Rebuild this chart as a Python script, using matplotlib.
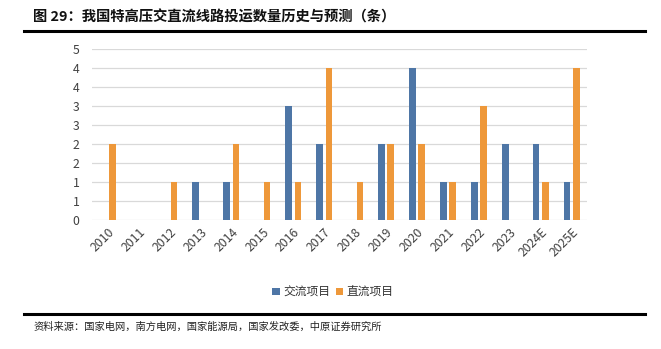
import matplotlib
matplotlib.use("Agg")
import matplotlib.pyplot as plt
import numpy as np
from matplotlib.patches import Patch

plt.rcParams['font.family'] = ['Noto Sans CJK SC', 'DejaVu Sans']

# Data: UHV line commissioning counts (AC vs DC)
years = ['2010', '2011', '2012', '2013', '2014', '2015', '2016', '2017',
         '2018', '2019', '2020', '2021', '2022', '2023', '2024E', '2025E']
ac_projects = [0, 0, 0, 1, 1, 0, 3, 2, 0, 2, 4, 1, 1, 2, 2, 1]
dc_projects = [2, 0, 1, 0, 2, 1, 1, 4, 1, 2, 2, 1, 3, 0, 1, 4]
y_ticks = [0, 0.5, 1, 1.5, 2, 2.5, 3, 3.5, 4, 4.5]
y_tick_labels = ['0', '1', '1', '2', '2', '3', '3', '4', '4', '5']

title = '图 29：我国特高压交直流线路投运数量历史与预测（条）'
source = '资料来源：国家电网，南方电网，国家能源局，国家发改委，中原证券研究所'
series_names = ['交流项目', '直流项目']
c_ac = '#4E76A6'
c_dc = '#EE983A'

W, H = 661, 349
fig = plt.figure(figsize=(W / 100, H / 100), dpi=100)

ax_left, ax_right = 92 / W, 587.3 / W
ax_bottom, ax_top = 1 - 220.3 / H, 1 - 49.3 / H
ax = fig.add_axes([ax_left, ax_bottom, ax_right - ax_left, ax_top - ax_bottom])

x = np.arange(len(years))
bw = 0.215
off = 0.152
ax.bar(x - off, ac_projects, width=bw, color=c_ac, zorder=3)
ax.bar(x + off, dc_projects, width=bw, color=c_dc, zorder=3)

ax.set_xlim(-0.5, len(years) - 0.5)
ax.set_ylim(0, 4.5)
ax.set_yticks(y_ticks)
ax.set_yticklabels(y_tick_labels)
ax.set_xticks(x)
ax.set_xticklabels(years, rotation=45, ha='right', rotation_mode='anchor')
ax.tick_params(axis='both', length=0, labelsize=8.8, labelcolor='#404040')
ax.tick_params(axis='y', pad=9)
ax.tick_params(axis='x', pad=4)
ax.yaxis.grid(True, color='#D9D9D9', linewidth=0.9, zorder=0)
ax.set_axisbelow(True)
for s in ax.spines.values():
    s.set_visible(False)

# Title and rules
fig.text(33 / W, 1 - 17 / H, title, fontsize=10.3, fontweight='bold',
         va='center', ha='left', color='#111111')
fig.add_artist(plt.Line2D([24 / W, 645 / W], [1 - 30.5 / H, 1 - 30.5 / H],
                          color='black', linewidth=2.2))
fig.add_artist(plt.Line2D([24 / W, 645 / W], [1 - 314 / H, 1 - 314 / H],
                          color='black', linewidth=2.2))
fig.text(33 / W, 1 - 326.5 / H, source, fontsize=7.4, va='center', ha='left',
         color='#222222')

handles = [Patch(facecolor=c_ac), Patch(facecolor=c_dc)]
fig.legend(handles, series_names, loc='center', bbox_to_anchor=(333 / W, 1 - 292 / H),
           ncol=2, frameon=False, fontsize=8.5, handlelength=0.6, handleheight=0.6,
           handletextpad=0.3, columnspacing=0.5, labelcolor='#333333')

fig.savefig('out.png', dpi=100)
